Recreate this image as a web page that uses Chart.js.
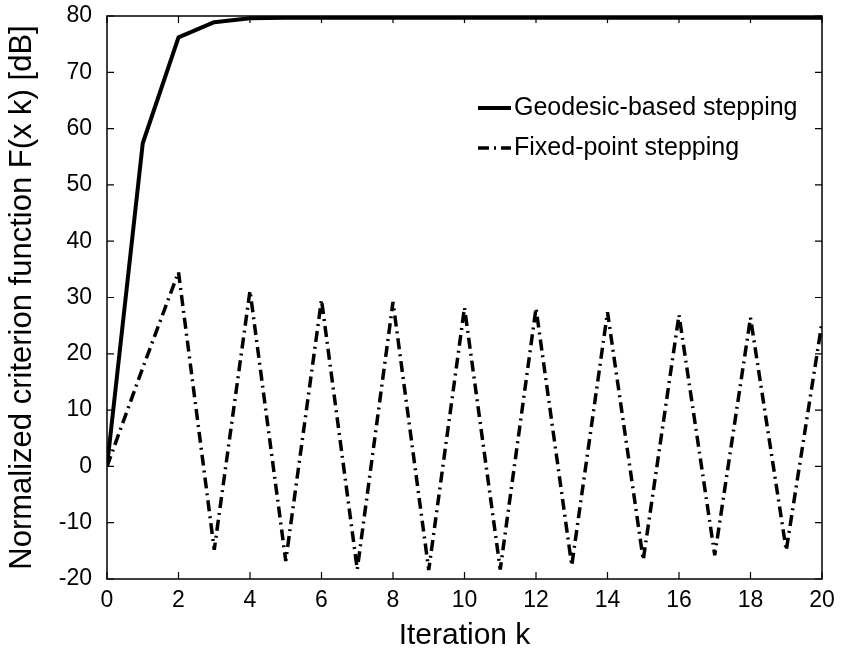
<!DOCTYPE html>
<html>
<head>
<meta charset="utf-8">
<script src="https://cdn.jsdelivr.net/npm/chart.js@4/dist/chart.umd.min.js"></script>
<style>
html,body{margin:0;padding:0;background:#fff;}
#wrap{width:844px;height:654px;position:relative;}
</style>
</head>
<body>
<div id="wrap"><canvas id="c" width="844" height="654"></canvas></div>
<script>
const iterations = [0,1,2,3,4,5,6,7,8,9,10,11,12,13,14,15,16,17,18,19,20];
const geodesic = [0,57.4,76.2,78.9,79.6,79.7,79.7,79.7,79.7,79.7,79.7,79.7,79.7,79.7,79.7,79.7,79.7,79.7,79.7,79.7,79.7];
const fixedPoint = [0,17.5,34.5,-14.8,31.2,-16.8,29.6,-18.3,29.2,-18.4,28.2,-18.3,28.1,-17.6,27.4,-16.6,26.9,-15.8,26.4,-14.9,25.6];
const seriesNames = ['Geodesic-based stepping','Fixed-point stepping'];
const xTicks = [0,2,4,6,8,10,12,14,16,18,20];
const yTicks = [-20,-10,0,10,20,30,40,50,60,70,80];

const FONT = "'Liberation Sans',Arial,sans-serif";

const framePlugin = {
  id: 'frame',
  afterDatasetsDraw(chart) {
    const ctx = chart.ctx, a = chart.chartArea;
    const xs = chart.scales.x, ys = chart.scales.y;
    ctx.save();
    ctx.strokeStyle = '#000';
    ctx.lineWidth = 1.5;
    ctx.strokeRect(a.left, a.top, a.right - a.left, a.bottom - a.top);
    ctx.lineWidth = 1.2;
    const L = 7;
    ctx.beginPath();
    xTicks.forEach(v => {
      const p = xs.getPixelForValue(v);
      ctx.moveTo(p, a.bottom); ctx.lineTo(p, a.bottom - L);
      ctx.moveTo(p, a.top); ctx.lineTo(p, a.top + L);
    });
    yTicks.forEach(v => {
      const p = ys.getPixelForValue(v);
      ctx.moveTo(a.left, p); ctx.lineTo(a.left + L, p);
      ctx.moveTo(a.right, p); ctx.lineTo(a.right - L, p);
    });
    ctx.stroke();
    // legend
    const ds = chart.data.datasets;
    const lx = 478, ly = [108, 148];
    ds.forEach((d, i) => {
      ctx.beginPath();
      ctx.lineWidth = d.borderWidth;
      ctx.setLineDash(d.borderDash || []);
      ctx.moveTo(lx, ly[i]); ctx.lineTo(lx + 33, ly[i]);
      ctx.stroke();
      ctx.setLineDash([]);
      ctx.fillStyle = '#000';
      ctx.font = "25px " + FONT;
      ctx.textBaseline = 'middle';
      ctx.textAlign = 'left';
      ctx.fillText(d.label, lx + 36, ly[i]);
    });
    ctx.restore();
  }
};

new Chart(document.getElementById('c'), {
  type: 'line',
  data: {
    datasets: [
      {
        label: seriesNames[0],
        data: iterations.map((k, i) => ({x: k, y: geodesic[i]})),
        borderColor: '#000',
        borderWidth: 4,
        borderJoinStyle: 'round',
        pointRadius: 0,
        tension: 0,
        fill: false
      },
      {
        label: seriesNames[1],
        data: iterations.map((k, i) => ({x: k, y: fixedPoint[i]})),
        borderColor: '#000',
        borderWidth: 3.5,
        borderJoinStyle: 'bevel',
        borderDash: [11, 5, 2, 5],
        pointRadius: 0,
        tension: 0,
        fill: false
      }
    ]
  },
  options: {
    responsive: false,
    animation: false,
    devicePixelRatio: 1,
    layout: {padding: {top: 16, right: 22, left: 0, bottom: 0}},
    plugins: {legend: {display: false}, tooltip: {enabled: false}},
    scales: {
      x: {
        type: 'linear', min: 0, max: 20,
        afterBuildTicks: s => { s.ticks = xTicks.map(v => ({value: v})); },
        afterFit: s => { s.height = 75; s.paddingLeft = 0; s.paddingRight = 0; },
        grid: {display: false, drawTicks: false},
        border: {display: false},
        ticks: {color: '#000', font: {family: FONT, size: 23}, padding: 8, maxRotation: 0, autoSkip: false},
        title: {display: true, text: 'Iteration k', color: '#000', font: {family: FONT, size: 30}, padding: {top: 0, bottom: 0}}
      },
      y: {
        type: 'linear', min: -20, max: 80,
        afterBuildTicks: s => { s.ticks = yTicks.map(v => ({value: v})); },
        afterFit: s => { s.width = 107; s.paddingTop = 0; s.paddingBottom = 0; },
        grid: {display: false, drawTicks: false},
        border: {display: false},
        ticks: {color: '#000', font: {family: FONT, size: 23}, padding: 15, autoSkip: false},
        title: {display: true, text: 'Normalized criterion function F(x k) [dB]', color: '#000', font: {family: FONT, size: 31}, padding: {top: 4, bottom: 0}}
      }
    }
  },
  plugins: [framePlugin]
});
</script>
</body>
</html>
